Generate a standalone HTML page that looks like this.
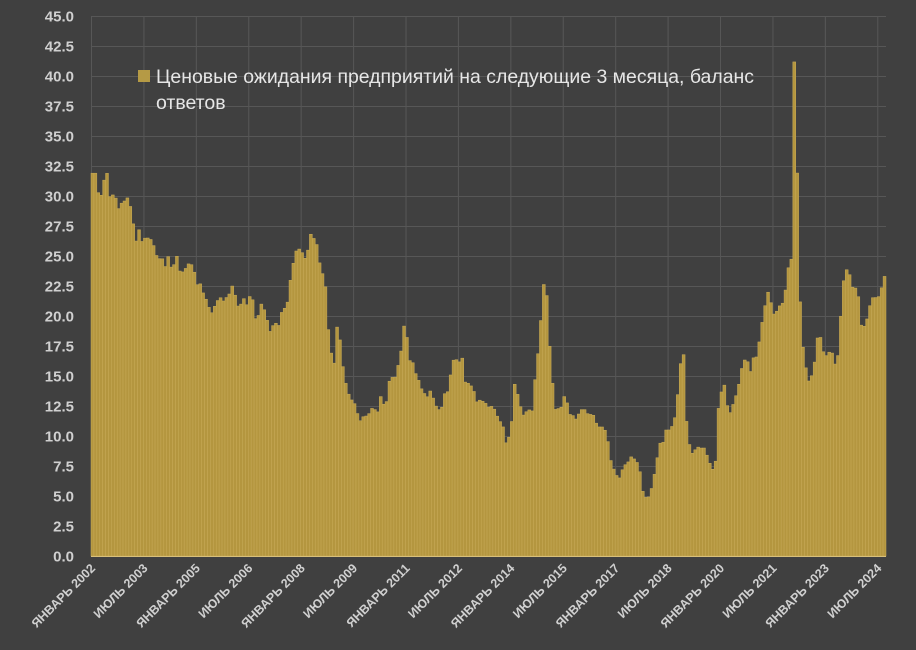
<!DOCTYPE html>
<html><head><meta charset="utf-8"><style>
html,body{margin:0;padding:0;background:#404040;}
svg{display:block;}
</style></head><body>
<svg id="s" width="916" height="650" xmlns="http://www.w3.org/2000/svg" font-family="Liberation Sans, DejaVu Sans, sans-serif">
<rect width="916" height="650" fill="#404040"/>
<g id="grid" stroke="#575757" stroke-width="1"></g>
<g id="bars"></g>
<line x1="91" y1="556.5" x2="886" y2="556.5" stroke="#d9c07a" stroke-width="1"/>
<g id="ylab" fill="#d0d0d0" font-size="15" font-weight="bold" text-anchor="end"></g>
<g id="xlab" fill="#d0d0d0" font-size="12.5" font-weight="bold" text-anchor="end"></g>
<rect x="138" y="70" width="12" height="12" fill="#b59a45"/>
<text x="156" y="83" fill="#e6e6e6" font-size="19.5" textLength="598" lengthAdjust="spacingAndGlyphs">Ценовые ожидания предприятий на следующие 3 месяца, баланс</text>
<text x="156" y="109" fill="#e6e6e6" font-size="19.5">ответов</text>
</svg>
<script>
var NS="http://www.w3.org/2000/svg";
function el(t,a,p,txt){var e=document.createElementNS(NS,t);for(var k in a)e.setAttribute(k,a[k]);if(txt)e.textContent=txt;document.getElementById(p).appendChild(e);}
var x0=91,x1=886,y0=556,ppu=12,N=273,w=(x1-x0)/N;
for(var i=0;i<=18;i++){var y=y0-i*2.5*ppu;
 if(i>0)el('line',{x1:x0,x2:x1,y1:y+0.5,y2:y+0.5},'grid');
 el('text',{x:74,y:y+5.5},'ylab',(i*2.5).toFixed(1));}
var labs=["ЯНВАРЬ 2002","ИЮЛЬ 2003","ЯНВАРЬ 2005","ИЮЛЬ 2006","ЯНВАРЬ 2008","ИЮЛЬ 2009","ЯНВАРЬ 2011","ИЮЛЬ 2012","ЯНВАРЬ 2014","ИЮЛЬ 2015","ЯНВАРЬ 2017","ИЮЛЬ 2018","ЯНВАРЬ 2020","ИЮЛЬ 2021","ЯНВАРЬ 2023","ИЮЛЬ 2024"];
for(var j=0;j<16;j++){var x=x0+j*18*w;
 el('line',{x1:x+0.5,x2:x+0.5,y1:16,y2:y0},'grid');
 el('text',{x:x+5,y:569,transform:'rotate(-45 '+(x+5)+' 569)'},'xlab',labs[j]);}
var A=[[91,31.9],[97,31.9],[98,30.3],[102,30],[103,31.1],[107,31.9],[110,29.9],[113,30.1],[117,29.7],[119,28.8],[122,29.5],[125,29.6],[128,29.9],[131,28.9],[133,27.8],[136,26.2],[139,27.2],[142,26.2],[145,26.5],[150,26.5],[154,25.8],[157,24.9],[161,24.7],[163,24.8],[166,23.9],[168,25],[172,23.8],[177,25],[179,23.8],[182,23.6],[186,24],[189,24.4],[193,24.2],[195,23.4],[197,22.6],[201,22.7],[204,21.6],[207,21.3],[211,20.1],[213,20.5],[217,21.2],[220,21.6],[223,21.2],[227,21.6],[230,21.9],[233,22.7],[237,20.9],[240,20.7],[243,21.6],[247,20.9],[250,21.7],[253,21.3],[256,19.5],[258,19.9],[262,21.2],[264,20.6],[267,19.7],[270,18.7],[273,19.2],[276,19.4],[279,19.2],[281,20.2],[284,20.6],[287,20.8],[291,23.3],[293,24.2],[295,25.2],[298,25.7],[302,25.3],[305,24.8],[308,25.5],[310,26.9],[313,26.6],[317,25.9],[320,24.2],[323,23.4],[326,22.2],[328,19.1],[331,17],[334,15.9],[337,19.1],[340,18],[343,15.7],[346,14.3],[349,13.4],[353,12.8],[356,12.6],[359,11.1],[363,11.6],[368,11.7],[372,12.3],[375,12.2],[378,12],[381,13.4],[383,12.6],[387,12.9],[389,14.5],[392,14.9],[395,14.8],[398,15.8],[401,16.9],[403,19.5],[407,18.2],[410,16.2],[413,16.1],[416,15.1],[418,14.8],[421,14],[424,13.6],[427,13.2],[430,13.8],[433,13.2],[436,12.5],[439,12.2],[442,12.4],[445,13.6],[448,13.7],[452,15.8],[455,16.8],[458,15.9],[462,16.7],[465,14.5],[468,14.4],[472,14.1],[474,13.7],[477,12.8],[480,13],[485,12.8],[488,12.4],[493,12.5],[498,11.5],[503,10.8],[505,9.4],[508,9.5],[512,11.3],[514,14.5],[517,13.7],[520,12.6],[523,11.7],[526,12],[529,12.2],[532,11.9],[534,14],[537,15.9],[541,19.7],[544,22.8],[547,21.6],[549,18.2],[552,14.9],[555,12.2],[558,12.3],[561,12.2],[563,13.5],[567,12.8],[570,11.8],[573,11.7],[577,11.3],[580,12.2],[585,12.2],[588,11.8],[593,11.8],[597,10.9],[600,10.7],[604,10.8],[608,9.5],[612,7.3],[615,7.2],[618,6.3],[621,6.7],[624,7.7],[627,7.5],[630,8.3],[633,8.2],[637,7.8],[640,7],[643,5.3],[647,4.7],[650,5.1],[653,6.1],[657,8],[660,9.4],[663,9.4],[666,10.5],[669,10.5],[673,10.9],[676,11.9],[679,14.5],[683,18.1],[686,11.6],[689,9.4],[693,8.4],[696,9],[699,9.1],[703,8.9],[705,9.1],[708,8],[712,7.4],[715,6.7],[718,12.3],[720,12.3],[723,15.1],[727,12.6],[730,11.9],[733,12.6],[737,13.6],[740,14.7],[743,16.2],[747,16.5],[750,15.1],[753,16.5],[757,16.6],[760,18.2],[763,19.9],[765,20.8],[768,22],[771,21.1],[775,19.8],[778,20.8],[782,20.9],[785,21.7],[788,24.3],[791,22.4],[794,42],[797,32.8],[799,23],[802,18],[805,16.2],[808,14.5],[811,14.8],[814,15.7],[817,17.8],[819,19.1],[822,17.3],[825,16.7],[828,16.7],[831,17.4],[834,16.1],[837,15.8],[839,17.7],[843,22.6],[846,23.9],[849,23.7],[852,22.4],[855,22.4],[858,21.9],[861,19.3],[863,18.8],[866,19.7],[868,19.8],[871,21.4],[874,21.6],[877,21.5],[880,21.7],[884,23.3],[886,23.3]];
function val(x){if(x<=A[0][0])return A[0][1];for(var k=1;k<A.length;k++){if(x<=A[k][0]){var a=A[k-1],b=A[k];var t=(x-a[0])/(b[0]-a[0]);return a[1]+t*(b[1]-a[1]);}}return A[A.length-1][1];}
for(var i=0;i<N;i++){var xc=x0+(i+0.5)*w;var v=val(xc);var h=v*ppu;
 el('rect',{x:(x0+i*w).toFixed(2),y:(y0-h).toFixed(2),width:w.toFixed(2),height:h.toFixed(2),fill:'#b4963f',stroke:'#c8ab58','stroke-width':0.5},'bars');}
</script>
</body></html>
